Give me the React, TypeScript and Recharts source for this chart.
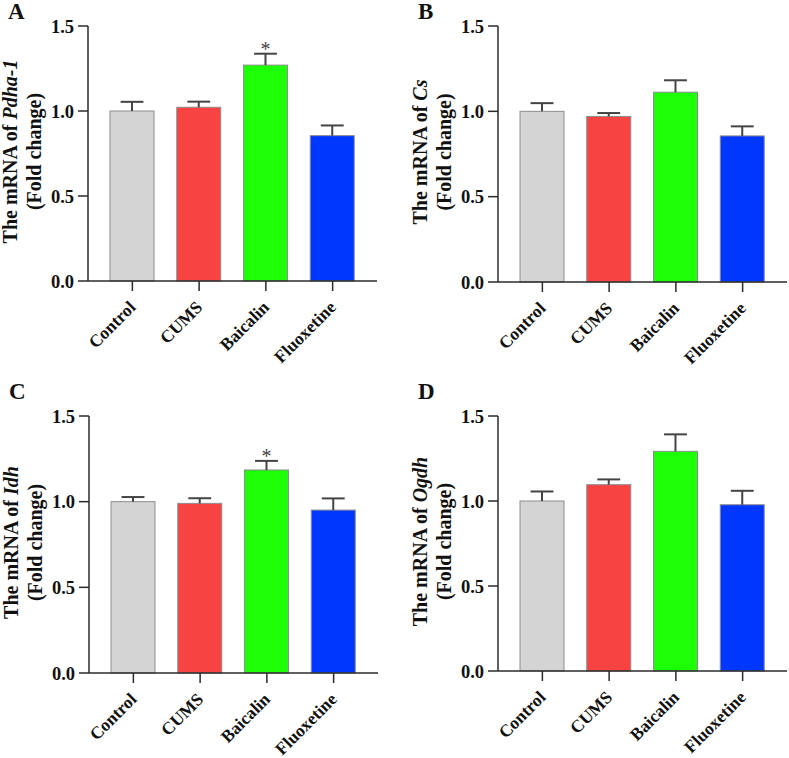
import React from 'react';
import { BarChart, Bar, XAxis, YAxis } from 'recharts';

const categories = ['Control', 'CUMS', 'Baicalin', 'Fluoxetine'];
const barFills = ['#d4d4d4', '#f84343', '#1cff06', '#0037ff'];
const yTicks = [0, 0.5, 1.0, 1.5];

const pdhaMean = [1.0, 1.022, 1.27, 0.855];
const pdhaErr = [0.054, 0.033, 0.067, 0.06];
const pdhaStars = ['', '', '*', ''];

const csMean = [1.0, 0.97, 1.112, 0.856];
const csErr = [0.048, 0.02, 0.07, 0.056];
const csStars = ['', '', '', ''];

const idhMean = [1.0, 0.99, 1.185, 0.951];
const idhErr = [0.027, 0.03, 0.053, 0.068];
const idhStars = ['', '', '*', ''];

const ogdhMean = [1.0, 1.096, 1.292, 0.978];
const ogdhErr = [0.056, 0.031, 0.1, 0.082];
const ogdhStars = ['', '', '', ''];

const FONT = '"Liberation Serif", "Times New Roman", serif';
const AXIS = '#2b2b2b';

const BarWithError = (props: any) => {
  const { x, y, width, height, payload } = props;
  const v = payload.mean;
  const pxPerUnit = v ? height / v : 0;
  const errTop = y - payload.err * pxPerUnit;
  const cx = x + width / 2;
  const cap = width * 0.26;
  return (
    <g>
      <rect x={x} y={y} width={width} height={height} fill={payload.color} stroke="#8d8d8d" strokeWidth={1} />
      <line x1={cx} y1={y} x2={cx} y2={errTop} stroke="#444" strokeWidth={2} />
      <line x1={cx - cap} y1={errTop} x2={cx + cap} y2={errTop} stroke="#444" strokeWidth={2} />
      {payload.star ? (
        <text x={cx} y={errTop + 2} textAnchor="middle" fontFamily={FONT} fontSize={20} fill="#444">
          {payload.star}
        </text>
      ) : null}
    </g>
  );
};

const XTick = (props: any) => {
  const { x, y, payload } = props;
  return (
    <g transform={`translate(${x},${y})`}>
      <text
        x={0}
        y={0}
        dy="0.35em"
        textAnchor="end"
        transform="rotate(-45)"
        fontFamily={FONT}
        fontWeight="bold"
        fontSize={17.5}
        fill="#111"
      >
        {payload.value}
      </text>
    </g>
  );
};

type PanelProps = {
  left: number;
  top: number;
  plotTop: number;
  plotBottom: number;
  letter: string;
  gene: string;
  means: number[];
  errs: number[];
  stars: string[];
};

const Panel = ({ left, top, plotTop, plotBottom, letter, gene, means, errs, stars }: PanelProps) => {
  const W = 395;
  const H = 378;
  const data = categories.map((c, i) => ({
    name: c,
    mean: means[i],
    err: errs[i],
    star: stars[i],
    color: barFills[i],
  }));
  const labelContent = (p: any) => {
    const vb = p.viewBox || { x: 0, y: plotTop, width: 88, height: plotBottom - plotTop };
    const cy = vb.y + vb.height / 2 - 2;
    return (
      <g fontFamily={FONT} fontWeight="bold" fill="#111">
        <text x={vb.x + 8} y={19} fontSize={23}>
          {letter}
        </text>
        <text transform={`translate(${vb.x + 17},${cy}) rotate(-90)`} textAnchor="middle" fontSize={20}>
          The mRNA of <tspan fontStyle="italic">{gene}</tspan>
        </text>
        <text transform={`translate(${vb.x + 41},${cy}) rotate(-90)`} textAnchor="middle" fontSize={20}>
          (Fold change)
        </text>
      </g>
    );
  };
  return (
    <div style={{ position: 'absolute', left, top, width: W, height: H }}>
      <BarChart
        width={W}
        height={H}
        data={data}
        margin={{ top: plotTop, right: 18, left: 0, bottom: H - plotBottom - 80 }}
        barSize={44}
      >
        <XAxis
          dataKey="name"
          height={80}
          interval={0}
          padding={{ left: 11, right: 11 }}
          tick={<XTick />}
          tickSize={10}
          tickMargin={13}
          axisLine={{ stroke: AXIS, strokeWidth: 1.5 }}
          tickLine={{ stroke: AXIS, strokeWidth: 1.5 }}
        />
        <YAxis
          width={88}
          domain={[0, 1.5]}
          ticks={yTicks}
          interval={0}
          tickFormatter={(v: number) => v.toFixed(1)}
          tickSize={10}
          tickMargin={4}
          tick={{ fontFamily: FONT, fontSize: 18.5, fontWeight: 'bold', fill: '#111' }}
          axisLine={{ stroke: AXIS, strokeWidth: 1.5 }}
          tickLine={{ stroke: AXIS, strokeWidth: 1.5 }}
          label={{ content: labelContent }}
        />
        <Bar dataKey="mean" isAnimationActive={false} shape={<BarWithError />} />
      </BarChart>
    </div>
  );
};

export default function App() {
  return (
    <div style={{ position: 'absolute', left: 0, top: 0, width: 789, height: 758, background: '#fff' }}>
      <Panel left={0} top={0} plotTop={26} plotBottom={281} letter="A" gene="Pdha-1" means={pdhaMean} errs={pdhaErr} stars={pdhaStars} />
      <Panel left={410} top={0} plotTop={26} plotBottom={282} letter="B" gene="Cs" means={csMean} errs={csErr} stars={csStars} />
      <Panel left={1} top={380} plotTop={36} plotBottom={293} letter="C" gene="Idh" means={idhMean} errs={idhErr} stars={idhStars} />
      <Panel left={410} top={380} plotTop={36} plotBottom={291} letter="D" gene="Ogdh" means={ogdhMean} errs={ogdhErr} stars={ogdhStars} />
    </div>
  );
}
